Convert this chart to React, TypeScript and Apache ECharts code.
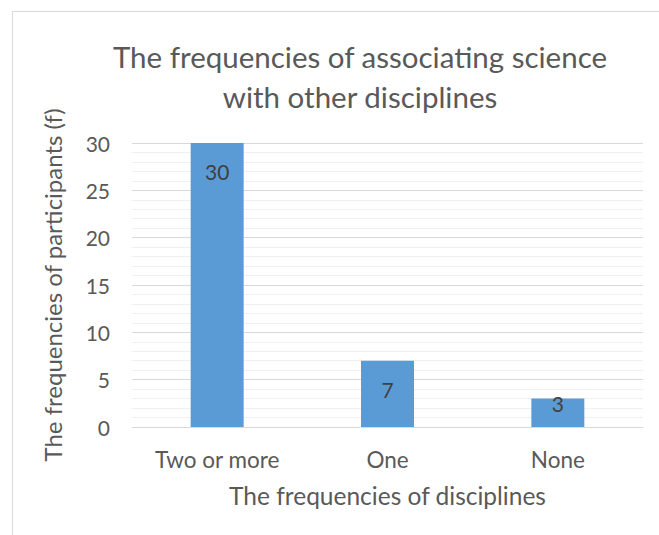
import React, { useEffect, useRef } from "react";
import * as echarts from "echarts";

const categories = ["Two or more", "One", "None"];
const values = [30, 7, 3];
const labelDistances = [18, 18, -6];
const yTicks = { min: 0, max: 30, interval: 5 };
const titleText = "The frequencies of associating science\nwith other disciplines";
const xName = "The frequencies of disciplines";
const yName = "The frequencies of participants (f)";

const FONT = "Lato, 'Open Sans', sans-serif";

export default function App() {
  const ref = useRef<HTMLDivElement>(null);
  useEffect(() => {
    if (!ref.current) return;
    const chart = echarts.init(ref.current, undefined, { renderer: "svg" });
    chart.setOption({
      animation: false,
      backgroundColor: "#ffffff",
      textStyle: { fontFamily: FONT },
      graphic: [
        {
          type: "rect",
          shape: { x: 12.5, y: 11.5, width: 700, height: 600 },
          style: { fill: "none", stroke: "#d9d9d9", lineWidth: 1 },
          silent: true,
        },
      ],
      title: {
        text: titleText,
        left: 355,
        textAlign: "center",
        top: 31,
        textStyle: {
          fontFamily: FONT,
          fontSize: 29.5,
          fontWeight: "normal",
          color: "#595959",
          lineHeight: 40,
        },
      },
      grid: { left: 132, right: 16, top: 143, bottom: 108 },
      xAxis: {
        type: "category",
        data: categories,
        axisLine: { lineStyle: { color: "#d9d9d9", width: 1 } },
        axisTick: { show: false },
        axisLabel: { color: "#595959", fontSize: 22.5, margin: 21, fontFamily: FONT },
        name: xName,
        nameLocation: "middle",
        nameGap: 56,
        nameTextStyle: { color: "#595959", fontSize: 24.5, fontFamily: FONT },
      },
      yAxis: {
        type: "value",
        min: yTicks.min,
        max: yTicks.max,
        interval: yTicks.interval,
        axisLine: { show: false },
        axisTick: { show: false },
        axisLabel: { color: "#595959", fontSize: 21, margin: 22, fontFamily: FONT },
        splitLine: { lineStyle: { color: "#d9d9d9", width: 1 } },
        minorTick: { show: false, splitNumber: 5 },
        minorSplitLine: { show: true, lineStyle: { color: "#f0f0f0", width: 1 } },
        name: yName,
        nameLocation: "middle",
        nameGap: 68,
        nameTextStyle: { color: "#595959", fontSize: 24, fontFamily: FONT },
      },
      series: [
        {
          type: "bar",
          barWidth: 53,
          data: values.map((v, i) => ({
            value: v,
            label: { distance: labelDistances[i] },
          })),
          itemStyle: { color: "#5b9bd5" },
          label: {
            show: true,
            position: "insideTop",
            color: "#404040",
            fontSize: 21,
            fontFamily: FONT,
          },
        },
      ],
    });
    return () => chart.dispose();
  }, []);
  return (
    <div
      ref={ref}
      style={{ position: "fixed", left: 0, top: 0, width: 659, height: 535 }}
    />
  );
}
